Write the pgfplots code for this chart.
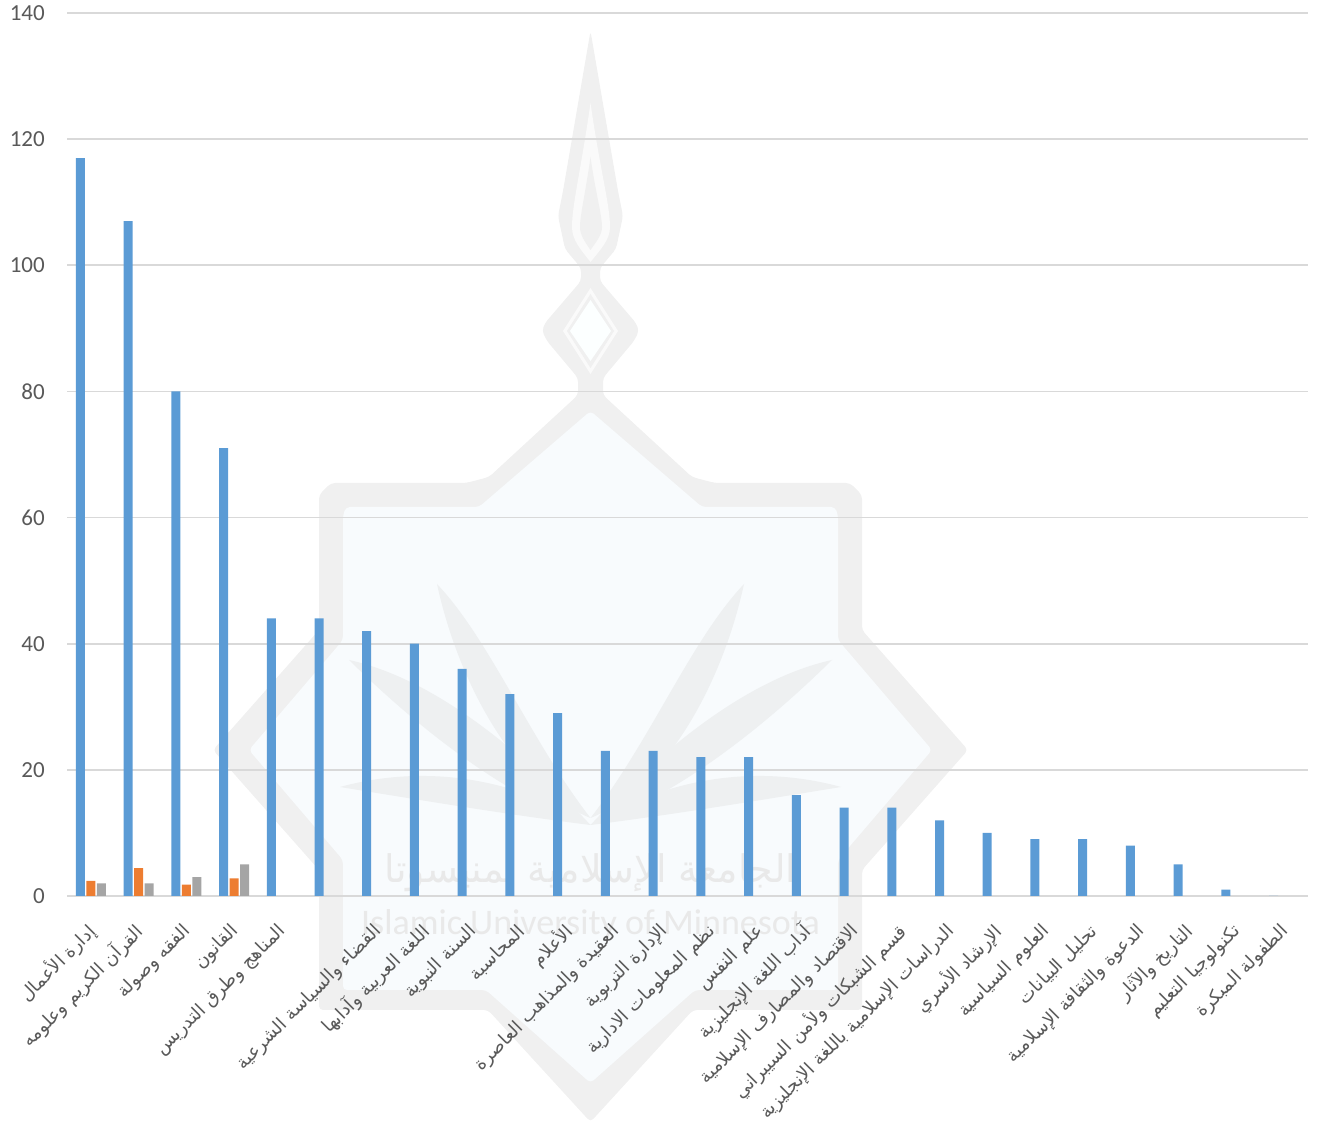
\documentclass[border=0pt]{standalone}
\usepackage{fontspec}
\usepackage{pgfplots}
\pgfplotsset{compat=1.18}
\usepackage{pgfplotstable}
\TeXXeTstate=1
\newfontfamily\arabicfont[Script=Arabic]{DejaVu Sans}
\newfontfamily\carlito{Carlito}
\newcommand\arf{\fontsize{18.2}{20}\arabicfont\selectfont}
\definecolor{gridc}{HTML}{D9D9D9}
\definecolor{tickc}{HTML}{595959}
\definecolor{wmg}{HTML}{F0F0F0}
\definecolor{wmb}{HTML}{F8FBFD}
\definecolor{wml}{HTML}{EEF0F1}
\pgfplotstableread{
x y
0.5 117
1.5 107
2.5 80
3.5 71
4.5 44
5.5 44
6.5 42
7.5 40
8.5 36
9.5 32
10.5 29
11.5 23
12.5 23
13.5 22
14.5 22
15.5 16
16.5 14
17.5 14
18.5 12
19.5 10
20.5 9
21.5 9
22.5 8
23.5 5
24.5 1
25.5 0
}\blue
\pgfplotstableread{
x y
0.5 2.4
1.5 4.4
2.5 1.8
3.5 2.8
}\orange
\pgfplotstableread{
x y
0.5 2
1.5 2
2.5 3
3.5 5
}\greyd
\begin{document}
\begin{tikzpicture}[x=1pt,y=1pt]
\path[use as bounding box] (0,0) rectangle (1318,1122);
\begin{scope}[x=1pt,y=-1pt,yshift=1122pt]
\fill[wmg,rounded corners=4pt]
 (590.5,31) -- (618,191) -- (623,216) -- (616,249) -- (600,268) -- (600,281)
 -- (636,323) -- (639,331) -- (634,341) -- (603,378) -- (603,395)
 -- (692,477) -- (715,483) -- (850,483) -- (862,495) -- (862,630) -- (968,750) -- (862,870)
 -- (862,1010) -- (693,1010) -- (590.5,1122) -- (488,1010) -- (319,1010) -- (319,870)
 -- (213,750) -- (319,630) -- (319,495) -- (331,483) -- (466,483) -- (489,477)
 -- (578,395) -- (578,378) -- (547,341) -- (542,331) -- (545,323)
 -- (581,281) -- (581,268) -- (565,249) -- (558,216) -- (563,191) -- cycle;
\fill[wmb,rounded corners=4pt]
 (590.5,411) -- (702,507) -- (835,507) -- (838,515) -- (838,640) -- (932,750) -- (838,860)
 -- (838,990) -- (695,990) -- (590.5,1083) -- (486,990) -- (343,990) -- (343,860)
 -- (249,750) -- (343,640) -- (343,515) -- (346,507) -- (479,507) -- cycle;
\fill[white!70!wmg] (590.5,103) .. controls (600,170) and (610,205) .. (610,227) .. controls (610,240) and (600,250) .. (590.5,262) .. controls (581,250) and (572,240) .. (572,227) .. controls (572,205) and (581,170) .. cycle;
\fill[wmg] (590.5,157) .. controls (595,190) and (602,215) .. (602,227) .. controls (602,235) and (596,242) .. (590.5,250) .. controls (585,242) and (580,235) .. (580,227) .. controls (580,215) and (586,190) .. cycle;
\fill[white!70!wmg] (590.5,288) -- (618,331) -- (590.5,374) -- (563,331) -- cycle;
\fill[wmg] (590.5,294) -- (614,331) -- (590.5,368) -- (567,331) -- cycle;
\fill[wmb!80!cyan!6!white] (590.5,300) -- (611,331) -- (590.5,361) -- (570,331) -- cycle;
\fill[wml] (437,584) .. controls (490,640) and (530,740) .. (590.5,818) .. controls (520,790) and (460,690) .. cycle;
\fill[wml] (744,584) .. controls (691,640) and (651,740) .. (590.5,818) .. controls (661,790) and (721,690) .. cycle;
\fill[wml] (349,660) .. controls (440,680) and (530,760) .. (590.5,825) .. controls (510,800) and (420,730) .. cycle;
\fill[wml] (832,660) .. controls (741,680) and (651,760) .. (590.5,825) .. controls (671,800) and (761,730) .. cycle;
\fill[wml] (340,787) .. controls (420,765) and (510,775) .. (590.5,825) .. controls (510,815) and (420,800) .. cycle;
\fill[wml] (841,787) .. controls (761,765) and (671,775) .. (590.5,825) .. controls (671,815) and (761,800) .. cycle;
\node[text=wmg!97!black] at (590.5,873) {\fontsize{38}{40}\arabicfont\selectfont\beginR الجامعة الإسلامية بمنيسوتا\endR};
\node[text=wmg!97!black] at (590.5,925) {\fontsize{36}{38}\carlito\selectfont Islamic University of Minnesota};
\end{scope}
\begin{axis}[
  at={(67pt,226pt)}, anchor=south west,
  scale only axis, width=1241pt, height=883pt,
  xmin=0, xmax=26, ymin=0, ymax=140,
  ybar=1.5pt, bar width=9pt,
  axis line style={draw=none},
  major tick length=0pt,
  ytick={0,20,...,140},
  ymajorgrids, grid style={draw=gridc, line width=1.6pt},
  xtick=data,
  xticklabels={
  {\arf\beginR إدارة الأعمال\endR},
  {\arf\beginR القرآن الكريم وعلومه\endR},
  {\arf\beginR الفقه وصولة\endR},
  {\arf\beginR القانون\endR},
  {\arf\beginR المناهج وطرق التدريس\endR},
  {},
  {\arf\beginR القضاء والسياسة الشرعية\endR},
  {\arf\beginR اللغة العربية وآدابها\endR},
  {\arf\beginR السنة النبوية\endR},
  {\arf\beginR المحاسبة\endR},
  {\arf\beginR الأعلام\endR},
  {\arf\beginR العقيدة والمذاهب العاصرة\endR},
  {\arf\beginR الإدارة التربوية\endR},
  {\arf\beginR نظم المعلومات الادارية\endR},
  {\arf\beginR علم النفس\endR},
  {\arf\beginR آداب اللغة الإنجليزية\endR},
  {\arf\beginR الاقتصاد والمصارف الإسلامية\endR},
  {\arf\beginR قسم الشبكات ولأمن السيبراني\endR},
  {\arf\beginR الدراسات الإسلامية باللغة الإنجليزية\endR},
  {\arf\beginR الإرشاد الأسري\endR},
  {\arf\beginR العلوم السياسية\endR},
  {\arf\beginR تحليل البيانات\endR},
  {\arf\beginR الدعوة والثقافة الإسلامية\endR},
  {\arf\beginR التاريخ والآثار\endR},
  {\arf\beginR تكنولوجيا التعليم\endR},
  {\arf\beginR الطفولة المبكرة\endR}},
  xticklabel style={rotate=45, anchor=east, text=tickc, inner sep=0pt, xshift=-22pt, yshift=-24pt},
  yticklabel style={text=tickc, font=\fontsize{23}{25}\carlito\selectfont, /pgf/number format/assume math mode=true, inner sep=0pt, xshift=-22pt},
  clip=false,
]
\addplot[ybar, fill={rgb,255:red,91;green,155;blue,213}, draw=none] table[x=x,y=y] {\blue};
\addplot[ybar, fill={rgb,255:red,237;green,125;blue,49}, draw=none] table[x=x,y=y] {\orange};
\addplot[ybar, fill={rgb,255:red,165;green,165;blue,165}, draw=none] table[x=x,y=y] {\greyd};
\end{axis}
\end{tikzpicture}
\end{document}
